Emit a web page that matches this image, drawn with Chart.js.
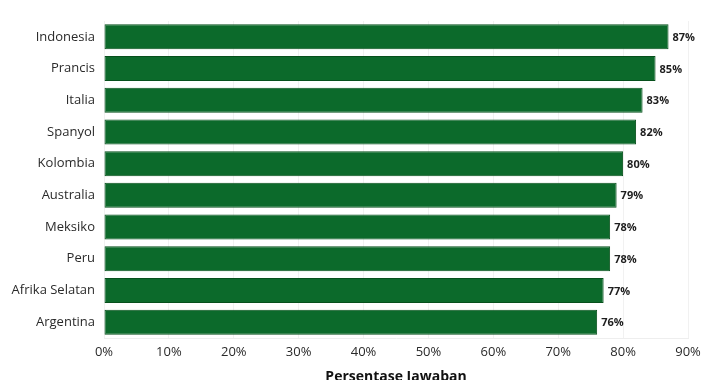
<!DOCTYPE html>
<html>
<head>
<meta charset="utf-8">
<script src="https://cdn.jsdelivr.net/npm/chart.js@4"></script>
<style>
html,body{margin:0;padding:0;background:#fff;}
#wrap{width:720px;height:380px;position:relative;}
</style>
</head>
<body>
<div id="wrap"><canvas id="c" width="720" height="380"></canvas></div>
<script>
const categories = ["Indonesia","Prancis","Italia","Spanyol","Kolombia","Australia","Meksiko","Peru","Afrika Selatan","Argentina"];
const values = [87,85,83,82,80,79,78,78,77,76];
const axisTitle = "Persentase Jawaban";

const FONT = "'Open Sans', 'Liberation Sans', sans-serif";

const valueLabels = {
  id: 'valueLabels',
  afterDatasetsDraw(chart) {
    const ctx = chart.ctx;
    const meta = chart.getDatasetMeta(0);
    ctx.save();
    ctx.font = "bold 11px " + FONT;
    ctx.fillStyle = '#1e1e1e';
    ctx.textAlign = 'left';
    ctx.textBaseline = 'middle';
    meta.data.forEach((bar, i) => {
      ctx.fillText(values[i] + '%', bar.x + 4, bar.y + 1);
    });
    ctx.restore();
  }
};

new Chart(document.getElementById('c'), {
  type: 'bar',
  data: {
    labels: categories,
    datasets: [{
      data: values,
      backgroundColor: '#0c6a2b',
      borderColor: '#07501c',
      borderWidth: 1,
      borderSkipped: false,
      categoryPercentage: 1,
      barPercentage: 0.79
    }]
  },
  options: {
    indexAxis: 'y',
    responsive: false,
    animation: false,
    devicePixelRatio: 1,
    layout: { padding: { top: 21, right: 32, left: 0, bottom: 0 } },
    plugins: { legend: { display: false }, tooltip: { enabled: false } },
    scales: {
      x: {
        min: 0, max: 90,
        ticks: {
          stepSize: 10,
          padding: 6,
          color: '#2a2a2a',
          font: { family: FONT, size: 13 },
          callback: v => v + '%'
        },
        grid: { color: '#f1f1f1', drawTicks: false, lineWidth: 1 },
        border: { display: true, color: '#eeeeee' },
        title: {
          display: true,
          text: axisTitle,
          color: '#111',
          font: { family: FONT, size: 14, weight: 'bold' },
          padding: { top: 4, bottom: -5 }
        },
        afterFit(scale) { scale.height = 42; }
      },
      y: {
        ticks: {
          padding: 9,
          color: '#2a2a2a',
          font: { family: FONT, size: 13 }
        },
        grid: { display: false, drawTicks: false },
        border: { display: false },
        afterFit(scale) { scale.width = 104; }
      }
    }
  },
  plugins: [valueLabels]
});
</script>
</body>
</html>
